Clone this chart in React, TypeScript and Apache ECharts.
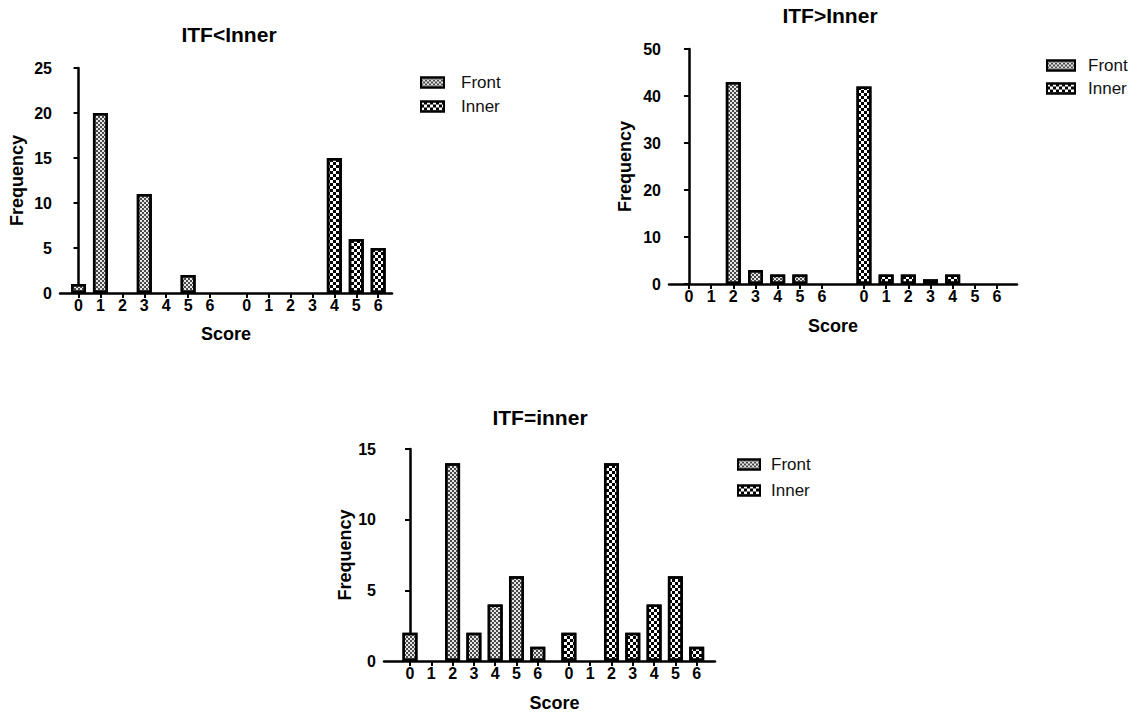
import React, { useEffect, useRef } from 'react';
import * as echarts from 'echarts';

const scoreLabels = ['0', '1', '2', '3', '4', '5', '6'];
const seriesNames = ['Front', 'Inner'];
const titles = ['ITF<Inner', 'ITF>Inner', 'ITF=inner'];
const ltFront = [1, 20, 0, 11, 0, 2, 0];
const ltInner = [0, 0, 0, 0, 15, 6, 5];
const gtFront = [0, 0, 43, 3, 2, 2, 0];
const gtInner = [42, 2, 2, 1, 2, 0, 0];
const eqFront = [2, 0, 14, 2, 4, 6, 1];
const eqInner = [2, 0, 14, 2, 4, 6, 1];
const yMaxes = [25, 50, 15];
const ySteps = [5, 10, 5];

const FONT = 'Liberation Sans, Arial, Helvetica, sans-serif';

const layouts = [
  { left: 60, top: 68, width: 332, height: 225, xMin: -0.845, xMax: 14.3, offset: 7.67, titleX: 229, titleY: 34, legendLeft: 420, legendTop: 74, legendGap: 7, legendIconW: 23, legendTextPad: 12, nameGapY: 34, nameGapX: 32, scorePad: [0, 0, 0, 0] },
  { left: 669, top: 49, width: 348, height: 235, xMin: -0.9, xMax: 14.79, offset: 7.89, titleX: 830, titleY: 15, legendLeft: 1046, legendTop: 57, legendGap: 6, legendIconW: 28, legendTextPad: 8, nameGapY: 35, nameGapX: 33, scorePad: [0, 20, 0, 0] },
  { left: 384, top: 449, width: 331, height: 215, xMin: -1.22, xMax: 14.32, offset: 7.46, titleX: 540, titleY: 417, legendLeft: 737, legendTop: 456, legendGap: 9, legendIconW: 22, legendTextPad: 6, nameGapY: 22, nameGapX: 33, scorePad: [0, 0, 0, 10] },
];

const frontStyle = {
  color: '#e6e6e6',
  borderColor: '#000',
  borderWidth: 2.5,
  decal: {
    symbol: 'rect',
    symbolSize: 1,
    color: '#4a4a4a',
    dashArrayX: [[2, 2], [0, 2, 2, 0]],
    dashArrayY: [2, 0],
    rotation: 0,
  },
};
const innerStyle = {
  color: '#ffffff',
  borderColor: '#000',
  borderWidth: 2.5,
  decal: {
    symbol: 'rect',
    symbolSize: 1,
    color: '#000',
    dashArrayX: [[3, 3], [0, 3, 3, 0]],
    dashArrayY: [3, 0],
    rotation: 0,
  },
};

export default function App() {
  const ref = useRef<HTMLDivElement>(null);
  useEffect(() => {
    if (!ref.current) return;
    const chart = echarts.init(ref.current, undefined, { renderer: 'svg' });
    const datasets = [
      [ltFront, ltInner],
      [gtFront, gtInner],
      [eqFront, eqInner],
    ];
    const grid: any[] = [];
    const xAxis: any[] = [];
    const yAxis: any[] = [];
    const series: any[] = [];
    const legend: any[] = [];
    const graphic: any[] = [];
    const toItem = (pos: number, v: number) =>
      v === 0 ? { value: [pos, v], itemStyle: { opacity: 0 } } : { value: [pos, v] };
    layouts.forEach((L, k) => {
      const frontPos = scoreLabels.map((_, i) => i);
      const innerPos = scoreLabels.map((_, i) => L.offset + i);
      const allPos = [...frontPos, ...innerPos];
      const allLabels = [...scoreLabels, ...scoreLabels];
      grid.push({ left: L.left, top: L.top, width: L.width, height: L.height, containLabel: false });
      xAxis.push({
        type: 'value',
        gridIndex: k,
        min: L.xMin,
        max: L.xMax,
        splitLine: { show: false },
        axisLine: { show: true, onZero: false, lineStyle: { color: '#000', width: 2.5 } },
        axisTick: { show: true, customValues: allPos, length: 5, lineStyle: { color: '#000', width: 2 } },
        axisLabel: {
          customValues: allPos,
          formatter: (v: number) => {
            const idx = allPos.findIndex((p) => Math.abs(p - v) < 1e-6);
            return idx >= 0 ? allLabels[idx] : '';
          },
          fontSize: 16,
          fontWeight: 'bold',
          fontFamily: FONT,
          color: '#000',
          margin: 4,
        },
        name: 'Score',
        nameLocation: 'middle',
        nameGap: L.nameGapX,
        nameTextStyle: { fontSize: 18, fontWeight: 'bold', fontFamily: FONT, color: '#000', padding: L.scorePad },
      });
      yAxis.push({
        type: 'value',
        gridIndex: k,
        min: 0,
        max: yMaxes[k],
        interval: ySteps[k],
        splitLine: { show: false },
        axisLine: { show: true, lineStyle: { color: '#000', width: 2.5 } },
        axisTick: { show: true, length: 5, lineStyle: { color: '#000', width: 2 } },
        axisLabel: { fontSize: 16, fontWeight: 'bold', fontFamily: FONT, color: '#000', margin: 8 },
        name: 'Frequency',
        nameLocation: 'middle',
        nameGap: L.nameGapY,
        nameTextStyle: { fontSize: 18, fontWeight: 'bold', fontFamily: FONT, color: '#000' },
      });
      const [fv, iv] = datasets[k];
      series.push({
        type: 'bar',
        name: seriesNames[0],
        xAxisIndex: k,
        yAxisIndex: k,
        barWidth: 15,
        barGap: '-100%',
        itemStyle: frontStyle,
        data: fv.map((v, i) => toItem(frontPos[i], v)),
      });
      series.push({
        type: 'bar',
        name: seriesNames[1],
        xAxisIndex: k,
        yAxisIndex: k,
        barWidth: 15,
        barGap: '-100%',
        itemStyle: innerStyle,
        data: iv.map((v, i) => toItem(innerPos[i], v)),
      });
      legend.push({
        left: L.legendLeft,
        top: L.legendTop,
        orient: 'vertical',
        padding: 0,
        data: seriesNames,
        icon: 'rect',
        itemWidth: L.legendIconW,
        itemHeight: 10,
        itemGap: L.legendGap,
        selectedMode: false,
        itemStyle: { opacity: 1 },
        textStyle: { fontSize: 17, lineHeight: 16, fontFamily: FONT, color: '#111', padding: [0, 0, 0, L.legendTextPad] },
      });
      graphic.push({
        type: 'text',
        x: L.titleX,
        y: L.titleY,
        style: {
          text: titles[k],
          fontSize: 21,
          fontWeight: 'bold',
          fontFamily: FONT,
          fill: '#000',
          align: 'center',
          verticalAlign: 'middle',
          textAlign: 'center',
          textVerticalAlign: 'middle',
        },
      });
    });
    chart.setOption({
      animation: false,
      backgroundColor: '#fff',
      aria: { enabled: true, decal: { show: true } },
      grid,
      xAxis,
      yAxis,
      series,
      legend,
      graphic,
    });
    return () => chart.dispose();
  }, []);
  return <div ref={ref} style={{ position: 'absolute', left: 0, top: 0, width: 1141, height: 713 }} />;
}
